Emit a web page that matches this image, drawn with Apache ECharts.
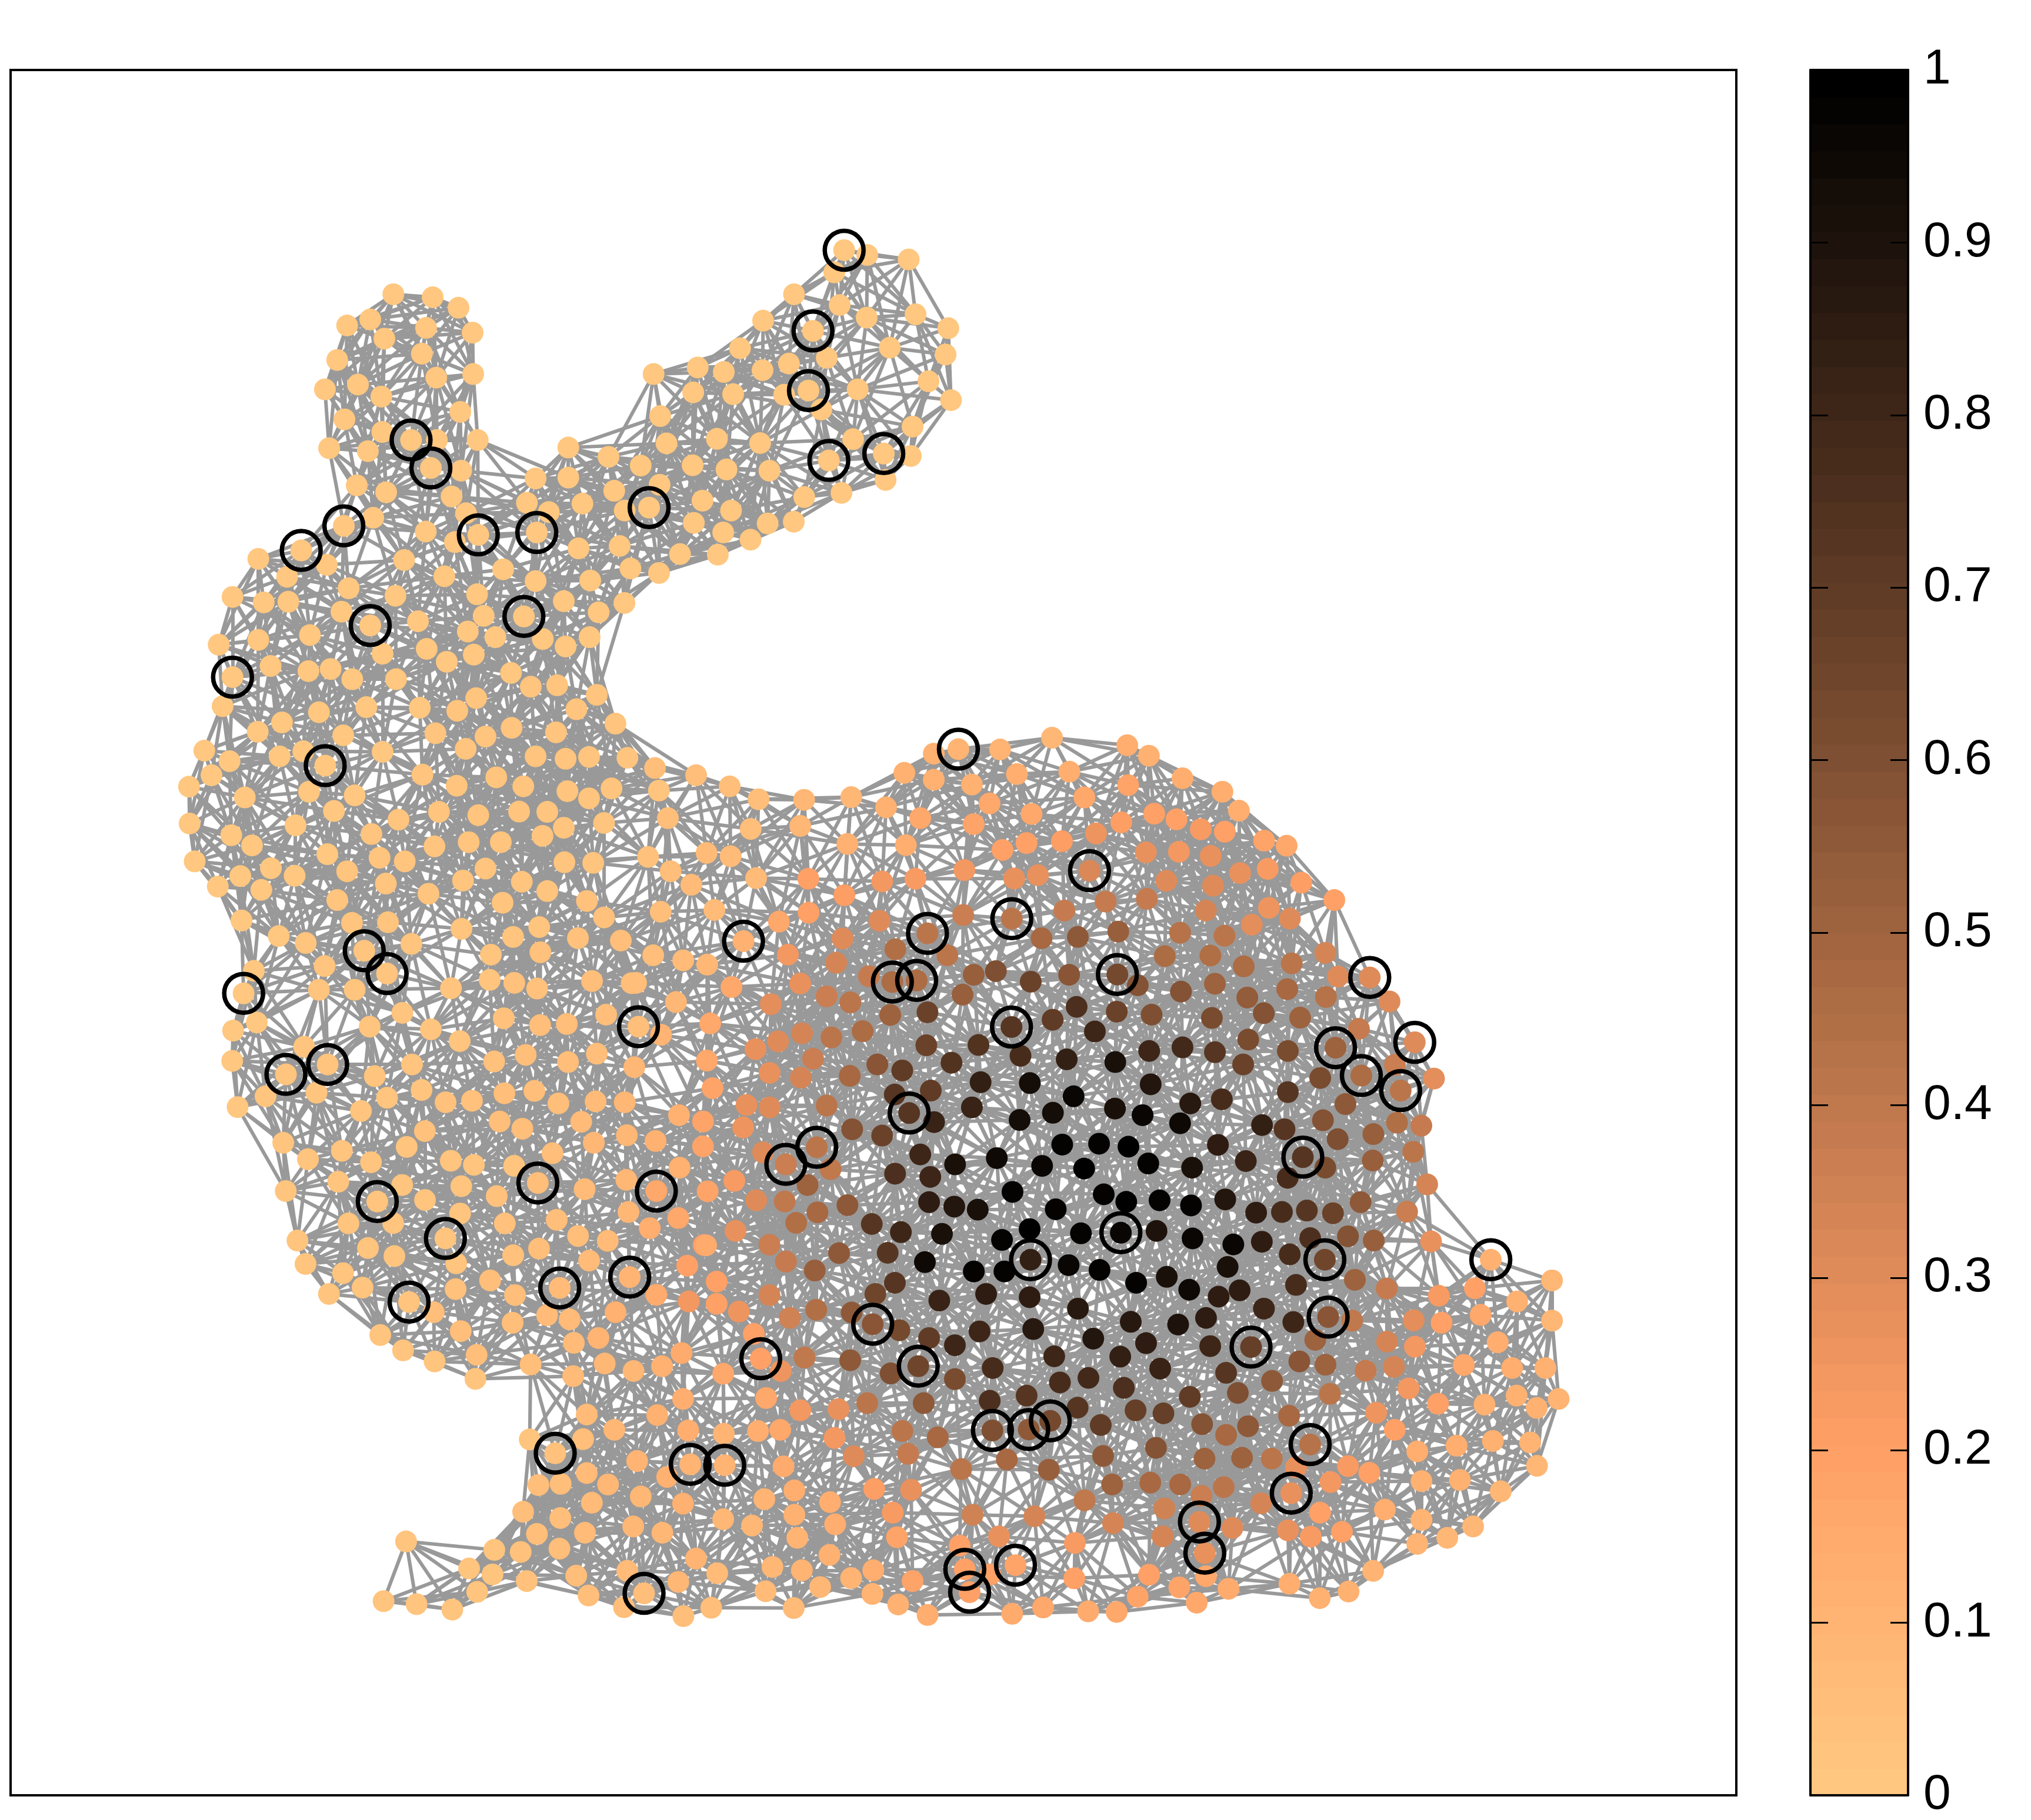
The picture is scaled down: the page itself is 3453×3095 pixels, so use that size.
<!DOCTYPE html>
<html>
<head>
<meta charset="utf-8">
<style>html,body{margin:0;padding:0;background:#fff}#chart{width:3453px;height:3095px}</style>
<script src="https://cdn.jsdelivr.net/npm/echarts@6/dist/echarts.min.js"></script>
</head>
<body>
<div id="chart"></div>
<script>
const earsLeft = [[762,236,0],[893,246,0],[979,281,0],[608,340,0],[685,320,0],[871,348,0],[1026,364,0],[732,384,0],[857,434,0],[575,455,0],[905,514,0],[1028,502,0],[644,537,0],[534,553,0],[722,577,0],[985,628,0],[599,653,0],[725,695,0],[907,722,0],[1043,722,0],[821,722,0,1],[548,749,0],[677,759,0],[887,815,0,1],[988,824,0],[640,873,0],[738,896,0],[956,910,0],[1236,850,0],[1345,747,0],[1479,778,0],[1345,847,0],[1498,891,0],[1207,931,0],[1280,962,0],[1392,934,0],[1004,966,0],[1533,957,0],[695,981,0],[597,1008,0,1],[870,1027,0],[1045,1038,0,1],[1240,1030,0,1],[967,1062,0],[1379,1083,0],[1516,1075,0],[455,1090,0,1],[312,1118,0],[540,1138,0],[798,1122,0],[1128,1153,0],[1552,1150,0],[408,1178,0],[932,1176,0],[1236,1192,0],[1418,1190,0],[226,1245,0],[613,1216,0],[769,1241,0],[1041,1236,0],[330,1263,0],[412,1261,0],[1330,1259,0],[1532,1265,0],[589,1294,0],[1063,1308,0],[1446,1296,0],[1197,1310,0,1],[685,1340,0,1],[844,1326,0],[484,1372,0],[1010,1360,0],[1102,1379,0],[1260,1385,0],[1416,1379,0],[180,1404,0],[312,1388,0],[873,1418,0],[1336,1410,0],[726,1434,0],[940,1461,0],[1030,1437,0],[1154,1498,0],[353,1475,0],[479,1492,0],[553,1485,0]];
const earRight = [[853,89,0,1],[930,105,0],[1068,120,0],[820,163,0],[686,236,0],[838,272,0],[928,314,0],[1091,303,0],[1200,349,0],[583,324,0],[749,358,0,1],[1005,414,0],[1191,437,0],[506,416,0],[795,448,0],[669,467,0],[365,480,0],[452,495,0],[581,489,0],[218,502,0],[1134,526,0],[898,553,0],[734,557,0,1],[350,563,0],[483,569,0],[653,571,0],[1209,589,0],[777,620,0],[240,642,0],[1081,677,0],[883,719,0],[261,733,0],[429,718,0],[573,732,0],[1075,775,0],[985,767,0,1],[175,807,0],[802,790,0,1],[348,806,0],[461,820,0],[604,824,0],[991,855,0],[238,871,0],[844,898,0],[381,924,0],[720,912,0],[203,947,0,1],[476,957,0],[352,998,0],[685,994,0],[598,1000,0],[450,1030,0],[541,1054,0],[306,1102,0],[432,1104,0],[236,1165,0]];
const chest = [[226,3,0,1],[625,10,.01],[771,10,.01],[1220,35,.02],[1308,30,.02],[1440,62,.02],[1038,73,.02],[514,120,.01],[672,103,.01],[850,105,.01],[975,115,.02],[1372,110,.02],[193,100,.01],[391,154,.01],[310,185,.01],[595,197,.01],[902,190,.02],[1069,201,.02],[1156,172,.02],[1304,187,.02],[1502,158,.03],[132,248,.01],[726,252,.01],[216,283,.01],[383,267,.01],[462,250,.01],[1003,242,.02],[1236,267,.02],[1336,275,.02],[1414,269,.02],[1542,272,.03],[535,298,.01,1],[156,330,.01],[859,328,.02],[81,368,.01],[481,385,.01],[267,404,.01],[633,397,.01],[973,365,.02],[1105,337,.02],[1195,367,.02],[1342,383,.02],[1414,407,.03],[1489,374,.03],[564,449,.01],[914,452,.02],[1045,463,.02],[1181,451,.02],[1275,452,.03],[83,491,.01],[436,497,.01],[779,478,.02],[1464,489,.03],[222,530,.01],[689,526,.02],[1330,505,.03],[1259,532,.03],[291,564,.01],[1013,553,.02],[1120,553,.03],[899,567,.02],[542,593,.01],[716,605,.02],[800,617,.02],[1332,620,.03],[1428,622,.03],[100,617,.01],[354,640,.01],[252,666,.01],[433,665,.01],[608,650,.02],[1069,641,.03],[177,701,.01],[322,712,.01],[737,691,.02],[994,681,.03],[1190,685,.03],[1275,716,.03],[879,725,.02],[575,746,.02],[1126,755,.03],[1407,749,.04],[1464,804,.04],[256,814,.01],[624,822,.02],[744,820,.02],[989,842,.03],[1248,836,.03],[380,866,.01],[470,889,.02],[1161,869,.03],[1377,873,.04],[1520,881,.05],[665,915,.02,1],[822,892,.02],[1087,928,.03],[1252,920,.04],[533,966,.02],[297,982,.01],[741,991,.02,1],[1083,1012,.03],[1165,1022,.04],[1241,1041,.04],[1424,1016,.05],[1556,1023,.06],[954,1040,.03],[514,1045,.02],[633,1045,.02],[263,1057,.01,1],[1130,1140,.04],[1251,1163,.05],[1340,1159,.05],[1471,1128,.06],[792,1122,.02],[307,1154,.01],[683,1168,.02],[887,1177,.03],[228,1181,.01],[983,1216,.03],[465,1235,.02],[1203,1262,.05],[1440,1258,.06],[1098,1284,.04],[1344,1286,.06],[225,1282,.01],[543,1294,.02,1],[824,1294,.03],[1565,1303,.08],[404,1327,.02,1],[700,1333,.03],[856,1379,.03],[336,1400,.02],[506,1388,.02],[741,1405,.03],[1132,1390,.05],[1232,1382,.05],[936,1420,.04],[1024,1415,.04],[1312,1424,.06],[1436,1417,.07],[1533,1420,.09],[243,1436,.01],[654,1449,.03],[1116,1484,.05],[1388,1485,.07],[1192,1508,.06],[867,1516,.04],[395,1555,.02],[1430,1555,.08],[1540,1530,.09]];
const backMiddle = [[105,208,.05],[242,232,.05],[118,283,.03],[354,269,.05],[450,312,.06],[602,314,.08],[759,305,.09],[936,224,.11],[1034,160,.12],[1116,145,.1,1],[1255,146,.1],[1428,107,.09],[1034,247,.11],[1161,263,.12],[1311,228,.13],[1486,220,.13],[875,339,.11],[148,375,.05],[424,411,.06],[589,401,.08],[989,375,.17],[1220,326,.17],[1360,361,.16],[1536,306,.16],[1167,395,.18],[746,461,.11],[941,465,.14],[277,491,.07],[82,504,.04],[357,502,.07],[1263,481,.2],[1343,458,.2],[1461,452,.21],[157,552,.05],[226,597,.07],[442,575,.07],[616,577,.19],[862,586,.24],[973,577,.22],[1136,548,.24],[1302,576,.27],[1381,565,.27],[1553,550,.32,1],[736,632,.21],[124,687,.06],[303,681,.07],[518,720,.17],[617,690,.2],[853,717,.31],[1132,698,.37],[1469,683,.38],[1294,710,.41,1],[1013,759,.42,1],[730,776,.31],[400,785,.11,1],[1393,775,.48],[1514,771,.55],[99,832,.06],[199,849,.07],[279,863,.08],[548,830,.24],[906,812,.45],[1079,832,.42],[709,857,.34],[1167,897,.52],[1241,885,.6],[1485,897,.57],[42,924,.05],[589,926,.27],[818,902,.38],[896,921,.46,1],[977,916,.46,1],[1357,920,.66],[360,938,.17],[175,988,.09],[491,995,.29],[677,969,.36],[756,989,.42],[1130,963,.53],[1510,1004,.76],[889,1031,.5],[1013,1022,.66],[1430,1047,.7],[50,1070,.05,1],[125,1097,.1],[289,1059,.17],[1293,1071,.72,1],[595,1092,.33],[693,1106,.41],[797,1085,.46],[515,1119,.3],[440,1145,.27],[1009,1132,.67],[1183,1131,.74],[1323,1167,.78],[1477,1179,.83],[632,1177,.37],[846,1196,.57],[929,1216,.7],[1093,1190,.74],[278,1183,.16],[487,1224,.28],[591,1240,.33],[754,1234,.47],[1190,1255,.83],[1354,1258,.93],[297,1275,.18],[904,1296,.73],[1024,1283,.7],[1500,1302,.96],[410,1331,.27],[487,1339,.31],[677,1333,.41],[1161,1339,.82],[952,1358,.72,1],[1320,1381,.93],[1431,1357,.93],[185,1365,.12],[265,1386,.18],[1035,1388,.82],[399,1406,.26],[762,1412,.58],[862,1433,.66],[107,1451,.12],[265,1469,.18],[1462,1463,.97],[989,1496,.8],[465,1489,.3],[644,1472,.42,1],[1244,1508,.95],[1105,1529,.92],[1395,1534,.96],[1535,1543,1],[187,1540,.11],[541,1529,.36,1],[905,1560,.75],[690,1545,.4]];
const backRight = [[150,132,.13],[222,167,.12],[334,242,.13],[467,287,.13],[522,350,.14],[153,265,.18],[240,360,.2],[314,379,.2],[130,389,.21],[395,412,.22],[475,420,.2],[606,450,.18],[681,467,.17],[46,426,.26],[212,489,.27],[322,487,.24],[428,501,.27],[526,558,.27],[618,544,.22],[730,590,.21],[840,648,.2],[280,584,.3],[436,600,.3],[78,653,.39],[215,644,.38],[412,683,.33],[622,674,.25],[692,710,.31],[565,730,.29],[120,753,.53],[326,757,.43],[474,767,.42],[810,824,.33],[275,835,.46],[427,833,.44],[538,869,.46],[698,859,.41],[117,896,.64,1],[852,903,.3],[958,906,.3,1],[185,932,.58],[442,927,.5],[329,953,.58],[683,945,.47],[812,971,.43],[550,973,.54],[1024,986,.3],[115,1020,.67],[231,1030,.6],[432,1041,.62],[605,1025,.58],[726,1040,.5],[922,1077,.38],[42,1086,.8],[553,1113,.62],[1108,1122,.3,1],[844,1140,.5,1],[223,1151,.8],[334,1139,.79],[442,1155,.72],[685,1151,.62],[1042,1197,.36],[536,1196,.66],[110,1188,.92],[930,1233,.46,1],[793,1241,.62],[1172,1243,.29],[228,1262,.88],[685,1288,.72],[1061,1283,.42,1],[877,1328,.55],[360,1326,.87],[465,1312,.78],[109,1343,.92],[201,1365,.96],[326,1392,.95],[599,1398,.83],[802,1382,.58],[674,1412,.72],[1049,1390,.44],[1130,1400,.38],[851,1445,.6],[970,1428,.52],[452,1464,.85],[56,1460,.97],[154,1470,1],[1103,1487,.42],[968,1516,.52],[220,1526,.98],[545,1518,.82],[735,1505,.72,1],[810,1540,.62],[366,1540,.92]];
const feetLeft = [[532,40,.03],[316,53,.03],[203,81,.02],[413,91,.02],[679,86,.03],[756,100,.03],[890,103,.03],[1018,61,.05],[304,156,.03],[129,187,.02],[517,167,.03],[714,171,.03],[969,160,.05,1],[1125,181,.07],[1264,150,.08],[1364,187,.17,1],[434,222,.03,1],[593,217,.03],[832,204,.04],[710,262,.03],[1032,283,.05],[1271,257,.08],[1437,277,.16],[1342,311,.14],[338,295,.03],[487,294,.03],[859,295,.04],[661,345,.03,1],[1103,337,.06],[1202,353,.07],[168,352,.03],[403,377,.03],[491,404,.03],[887,401,.04],[973,379,.05],[1140,419,.07],[697,428,.03],[1522,367,.2],[195,430,.02],[1467,436,.2],[320,461,.03],[1275,474,.1,1],[810,485,.05],[695,514,.04],[385,509,.03],[1042,510,.07,1],[273,530,.02],[893,534,.05],[1364,533,.15],[540,557,.03,1],[1228,591,.11],[1472,555,.24],[622,591,.05],[1000,601,.07],[1075,615,.07],[885,626,.06],[444,667,.03],[712,654,.05],[1171,677,.1],[1089,693,.07],[520,718,.03],[765,733,.05],[1448,727,.15],[1192,762,.09],[945,765,.06],[1383,771,.11],[625,755,.03],[1288,787,.09],[761,813,.03],[1087,804,.07],[1453,880,.14],[1132,932,.07],[1367,934,.11],[1224,983,.09],[1470,985,.13],[942,1015,.03],[1120,1014,.05],[1027,1061,.04,1],[1300,1087,.1],[1477,1098,.1,1],[1132,1127,.07],[1400,1140,.11],[1203,1165,.08],[971,1167,.05],[1045,1163,.05],[1312,1205,.09],[1149,1226,.07],[1453,1229,.11],[920,1256,.05],[1044,1277,.05],[1287,1305,.08],[1384,1326,.09],[966,1330,.05],[1126,1326,.07],[530,1355,.02],[824,1383,.03],[912,1390,.04],[1041,1379,.05],[740,1445,.03],[1496,1412,.1],[818,1465,.03],[1097,1469,.05],[932,1487,.04],[1267,1453,.07],[1437,1490,.08],[1323,1528,.06,1],[767,1523,.03],[1138,1535,.05],[455,1554,.03],[565,1564,.03],[684,1582,.03],[1256,1574,.06],[1454,1604,.06]];
const bellyMiddle = [[95,55,.22],[6,90,.18],[339,69,.5],[748,42,.8],[168,120,.3],[263,124,.4],[372,160,.47],[472,136,.55],[744,126,.85],[828,141,.88],[906,151,.92],[1022,92,.98],[1166,150,.97],[1326,100,.98],[1401,125,.99],[1512,120,.98],[301,195,.45],[99,222,.28],[553,199,.73],[650,226,.8],[787,232,.92],[1079,216,.99],[1250,230,.98],[1383,228,.96,1],[1502,222,.9],[1,270,.15],[212,268,.37],[987,252,.97],[444,296,.55],[267,324,.39],[606,295,.72],[1082,318,.84,1],[730,326,.95],[1209,336,.96],[893,357,.97],[995,357,.98],[1312,352,.97],[363,354,.52],[1536,375,.92],[36,391,.19],[630,395,.72],[1434,395,.97],[212,436,.33],[934,432,.85],[1079,443,.85],[565,432,.65],[778,454,.82],[36,465,.19],[1240,481,.87],[110,491,.26],[486,494,.55],[368,485,.45],[1416,525,.87],[280,512,.35],[556,533,.57,1],[1091,549,.87],[160,565,.2],[912,557,.8],[645,553,.63],[744,579,.7],[1291,581,.88],[830,603,.8],[1467,596,.85],[183,648,.2,1],[250,689,.25],[329,644,.4],[481,653,.55],[1161,640,.8],[1381,641,.83],[708,673,.65,1],[58,698,.17],[616,697,.6],[956,679,.78],[1275,712,.79],[1514,681,.82],[1180,727,.78],[830,716,.62],[1393,745,.75],[201,779,.17],[946,788,.76],[1069,771,.73],[1239,811,.72],[538,796,.42],[726,796,.55],[442,816,.27],[315,820,.24],[1148,855,.63,1],[1432,820,.68],[1525,830,.68],[1316,869,.7],[60,898,.1],[174,889,.14],[248,885,.17],[955,887,.6,1],[1076,884,.55,1],[655,889,.42],[429,912,.24],[773,910,.48],[1500,945,.58],[1324,972,.56],[493,973,.3],[674,965,.38],[1003,984,.48],[63,1003,.1,1],[259,1007,.15],[851,1016,.42],[1143,1018,.52],[561,1082,.21],[684,1085,.27],[295,1087,.13],[1354,1067,.5],[1481,1061,.48],[195,1116,.1],[414,1126,.13],[1262,1120,.4],[1528,1147,.35],[623,1161,.22],[889,1168,.35],[1095,1173,.33],[58,1183,.08],[295,1168,.12],[431,1200,.14],[154,1204,.09],[1357,1196,.33],[637,1243,.18],[977,1240,.28],[305,1245,.1],[1522,1240,.33],[846,1271,.2],[1230,1262,.23],[412,1302,.12],[222,1342,.09],[320,1353,.1],[38,1363,.07],[558,1353,.13],[484,1379,.1],[863,1350,.2,1],[1032,1336,.18,1],[948,1367,.2],[689,1389,.18],[1228,1380,.2],[1477,1368,.2],[381,1409,.09],[199,1423,.07],[555,1432,.1],[879,1426,.2,1],[1439,1441,.18],[18,1478,.06],[293,1479,.07],[641,1467,.11],[1124,1477,.17],[1274,1490,.15],[1369,1492,.17],[739,1502,.13],[1021,1498,.15]];
const tailRight = [[875,67,.33],[410,45,.78],[202,117,.88],[88,137,.98],[653,126,.55],[808,158,.37],[305,161,.85],[391,159,.77],[474,154,.72],[561,163,.67],[888,257,.27],[485,246,.75],[611,240,.58],[697,254,.53],[93,247,.96],[229,267,.96],[324,258,.85],[534,318,.65,1],[417,300,.78],[1087,318,.11,1],[210,342,.92],[1291,387,.09],[634,385,.5],[740,414,.38],[914,438,.22],[1034,413,.19],[1175,457,.11],[82,418,.94],[180,441,.85],[250,420,.85],[438,402,.78],[331,481,.8],[138,512,.85],[45,534,.9],[429,526,.8],[545,509,.57,1],[625,521,.4],[830,520,.29],[923,528,.19],[1053,502,.17],[1291,521,.09],[502,585,.5],[152,606,.8],[288,609,.68,1],[741,591,.33],[834,608,.24],[1110,593,.14],[449,657,.57],[536,668,.5],[997,669,.17],[1158,679,.13],[1269,679,.11],[670,688,.38],[764,675,.33],[205,695,.72],[358,722,.55],[813,747,.24],[551,765,.42],[244,762,.6],[84,775,.7],[911,798,.2],[1066,801,.12],[1173,771,.12],[1240,812,.11],[1313,782,.1],[705,828,.26],[415,838,.47],[125,866,.58],[278,873,.55],[205,902,.47],[767,885,.2],[842,957,.14],[485,934,.43,1],[973,938,.13],[1094,922,.11],[1218,927,.1],[133,981,.5],[258,978,.5],[357,981,.42],[611,1006,.23],[438,1010,.28],[1241,1005,.09],[682,1028,.19],[553,1059,.24],[856,1056,.12],[984,1052,.11],[52,1067,.47],[197,1076,.42],[123,1105,.37],[422,1096,.27,1],[322,1130,.33],[1120,1090,.09],[734,1151,.13],[518,1161,.2],[116,1192,.3,1],[226,1212,.3],[856,1185,.1],[591,1225,.2],[411,1220,.27],[487,1241,.22],[1028,1207,.09],[942,1245,.09],[842,1265,.1],[134,1296,.28,1],[695,1355,.1],[138,1373,.17],[416,1398,.14],[49,1410,.18],[213,1415,.15],[613,1424,.12],[517,1446,.11],[107,1461,.16]];

const colorbarTicks = ['0','0.1','0.2','0.3','0.4','0.5','0.6','0.7','0.8','0.9','1'];

// Each list was read at 1.96x from a known corner of the picture.
const readingScale = 1.96;
const readings = [[earsLeft,280,380],[earRight,1000,380],[chest,280,1150],[backMiddle,1060,1200],[backRight,1840,1200],[feetLeft,420,1930],[bellyMiddle,1200,1980],[tailRight,1980,1980]];

const LEVELS = 64;
function copperReversed(v){
  const i = Math.min(LEVELS-1, Math.floor(v*LEVELS));
  const t = 1 - i/(LEVELS-1);
  const r = Math.round(255*Math.min(1,1.25*t)), g = Math.round(255*.7812*t), b = Math.round(255*.4975*t);
  return 'rgb('+r+','+g+','+b+')';
}

const nodes = [];
readings.forEach(function(entry){
  entry[0].forEach(function(n){
    nodes.push({x: entry[1]+n[0]/readingScale, y: entry[2]+n[1]/readingScale, v: n[2], ring: !!n[3]});
  });
});

// Edges join nodes closer than a reach; long ones
// are kept only when they do not cross empty space (a node lies near their middle).
const EDGE_REACH = 168, LONG_EDGE = 135, MIDPOINT_REACH = 58;
function midpointCovered(a,b){
  const mx=(a.x+b.x)/2, my=(a.y+b.y)/2;
  return nodes.some(function(n){
    if (n===a||n===b) return false;
    const dx=n.x-mx, dy=n.y-my;
    return dx*dx+dy*dy < MIDPOINT_REACH*MIDPOINT_REACH;
  });
}
const links = [];
for (let i=0;i<nodes.length;i++){
  for (let j=i+1;j<nodes.length;j++){
    const dx=nodes[i].x-nodes[j].x, dy=nodes[i].y-nodes[j].y, d2=dx*dx+dy*dy;
    if (d2 < EDGE_REACH*EDGE_REACH && (d2 < LONG_EDGE*LONG_EDGE || midpointCovered(nodes[i],nodes[j]))) links.push({source:i,target:j});
  }
}

const bands = [];
for (let k=0;k<LEVELS;k++) bands.push([k/LEVELS,(k+1)/LEVELS]);

const labelFont = {fontFamily:'"Liberation Sans", Arial, sans-serif', fontSize:84, color:'#000'};
const chart = echarts.init(document.getElementById('chart'), null, {renderer:'canvas'});
chart.setOption({
  animation:false,
  backgroundColor:'#fff',
  grid:[
    {left:18, top:119, width:2934, height:2934, show:true, borderColor:'#000', borderWidth:4, backgroundColor:'#fff'},
    {left:3078, top:119, width:166, height:2934}
  ],
  xAxis:[
    {gridIndex:0, type:'value', min:18, max:2952, show:false},
    {gridIndex:1, type:'value', min:0, max:1, position:'bottom', z:5, axisLine:{show:true,onZero:false,lineStyle:{color:'#000',width:4}}, axisTick:{show:false}, axisLabel:{show:false}, splitLine:{show:false}},
    {gridIndex:1, type:'value', min:0, max:1, position:'top', z:5, axisLine:{show:true,onZero:false,lineStyle:{color:'#000',width:4}}, axisTick:{show:false}, axisLabel:{show:false}, splitLine:{show:false}}
  ],
  yAxis:[
    {gridIndex:0, type:'value', min:119, max:3053, inverse:true, show:false},
    {gridIndex:1, type:'value', min:0, max:1, interval:.1, position:'right', z:5,
      axisLine:{show:true,onZero:false,lineStyle:{color:'#000',width:4}},
      axisTick:{show:true,inside:true,length:30,lineStyle:{color:'#000',width:3}},
      splitLine:{show:false},
      axisLabel:Object.assign({show:true,margin:26,align:'left',padding:[10,0,0,0],showMinLabel:true,showMaxLabel:true,
        formatter:function(v){return colorbarTicks[Math.round(v*10)];}},labelFont)},
    {gridIndex:1, type:'value', min:0, max:1, interval:.1, position:'left', z:5,
      axisLine:{show:true,onZero:false,lineStyle:{color:'#000',width:4}},
      axisTick:{show:true,inside:true,length:30,lineStyle:{color:'#000',width:3}},
      axisLabel:{show:false}, splitLine:{show:false}}
  ],
  series:[
    {type:'graph', coordinateSystem:'cartesian2d', xAxisIndex:0, yAxisIndex:0, layout:'none', silent:true, z:2,
      symbol:'circle', symbolSize:37,
      lineStyle:{color:'#999999',width:6,opacity:1,curveness:0},
      emphasis:{disabled:true},
      data:nodes.map(function(n){return {value:[n.x,n.y],itemStyle:{color:copperReversed(n.v),borderWidth:0,opacity:1}};}),
      links:links},
    {type:'scatter', xAxisIndex:0, yAxisIndex:0, silent:true, z:3, symbol:'circle', symbolSize:66,
      itemStyle:{color:'rgba(0,0,0,0)',borderColor:'#000',borderWidth:7.5,opacity:1},
      data:nodes.filter(function(n){return n.ring;}).map(function(n){return [n.x,n.y];})},
    {type:'custom', xAxisIndex:1, yAxisIndex:1, silent:true, z:1, clip:true,
      renderItem:function(params,api){
        const a=api.coord([0,api.value(1)]), b=api.coord([1,api.value(0)]);
        return {type:'rect',shape:{x:a[0],y:a[1],width:b[0]-a[0],height:b[1]-a[1]+1},style:{fill:copperReversed((api.value(0)+api.value(1))/2)}};
      },
      encode:{y:[0,1]},
      data:bands}
  ]
});
</script>
</body>
</html>
